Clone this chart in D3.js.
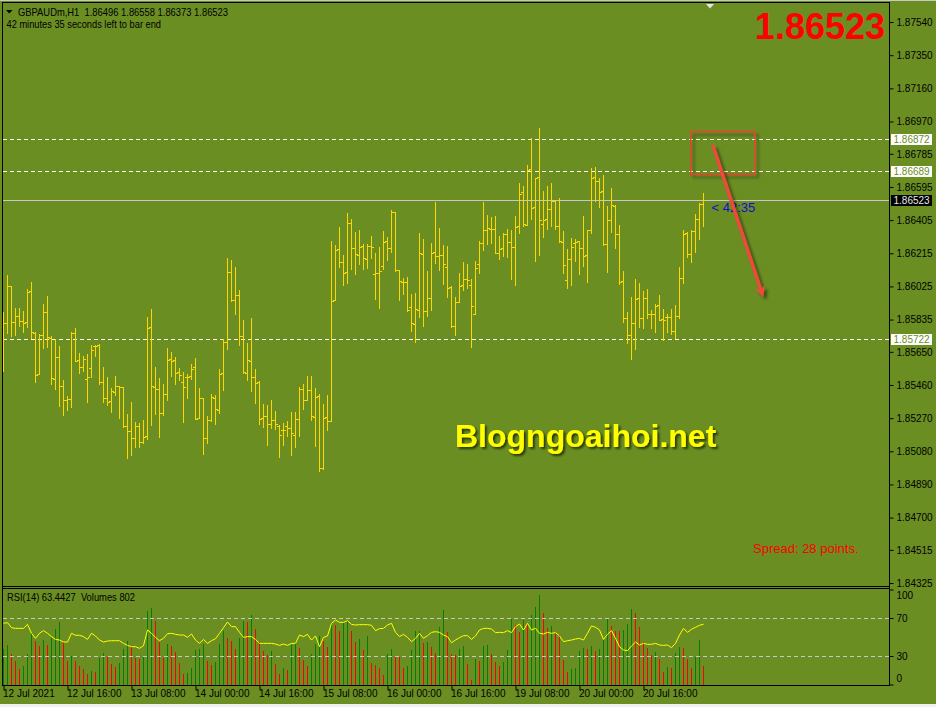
<!DOCTYPE html>
<html><head><meta charset="utf-8">
<script src="https://cdn.jsdelivr.net/npm/d3@7"></script>
<style>
html,body{margin:0;padding:0;background:#6B8E23;overflow:hidden;}
svg{display:block;}
text{font-family:"Liberation Sans",Arial,sans-serif;white-space:pre;}
</style></head><body>
<svg id="c" width="936" height="707"></svg>
<script>
const symbol = "GBPAUDm", timeframe = "H1";
const openP = [1.85803,1.85817,1.86027,1.85822,1.85855,1.85824,1.85821,1.86000,1.85759,1.85521,1.85744,1.85876,1.85729,1.85494,1.85618,1.85452,1.85375,1.85378,1.85756,1.85601,1.85565,1.85492,1.85555,1.85681,1.85687,1.85475,1.85383,1.85368,1.85418,1.85452,1.85446,1.85225,1.85194,1.85154,1.85225,1.85135,1.85166,1.85790,1.85446,1.85435,1.85297,1.85406,1.85607,1.85601,1.85534,1.85475,1.85505,1.85510,1.85561,1.85272,1.85383,1.85154,1.85257,1.85385,1.85315,1.85527,1.85704,1.86106,1.85947,1.85975,1.85740,1.85527,1.85599,1.85507,1.85477,1.85269,1.85282,1.85234,1.85259,1.85225,1.85202,1.85223,1.85212,1.85175,1.85265,1.85435,1.85372,1.85429,1.85275,1.85397,1.84982,1.85275,1.85252,1.85947,1.86237,1.86163,1.86106,1.86386,1.86243,1.86203,1.86256,1.86180,1.86255,1.86094,1.86100,1.86140,1.86285,1.86243,1.86449,1.86117,1.86048,1.86048,1.85905,1.85808,1.85888,1.86209,1.85882,1.85957,1.86220,1.86197,1.86203,1.86134,1.86020,1.85796,1.85934,1.86031,1.86065,1.86031,1.85865,1.86151,1.86272,1.86346,1.86352,1.86352,1.86214,1.86243,1.86323,1.86277,1.86249,1.86371,1.86566,1.86378,1.86696,1.86478,1.86650,1.86381,1.86409,1.86468,1.86512,1.86371,1.86277,1.86060,1.86180,1.86272,1.86283,1.86243,1.86203,1.86346,1.86650,1.86630,1.86571,1.86266,1.86404,1.86487,1.86325,1.86054,1.85842,1.85746,1.85813,1.85957,1.85842,1.85958,1.85865,1.85865,1.85920,1.85836,1.85851,1.85851,1.85771,1.85853,1.86071,1.86329,1.86209,1.86341,1.86409,1.86496];
const highP = [1.85878,1.86090,1.86027,1.85903,1.85903,1.85884,1.86010,1.86050,1.85763,1.85752,1.85926,1.85970,1.85740,1.85725,1.85683,1.85488,1.85397,1.85763,1.85786,1.85643,1.85626,1.85637,1.85689,1.85687,1.85695,1.85563,1.85505,1.85442,1.85511,1.85454,1.85448,1.85293,1.85360,1.85248,1.85242,1.85259,1.85851,1.85895,1.85565,1.85500,1.85465,1.85672,1.85647,1.85620,1.85557,1.85534,1.85524,1.85580,1.85614,1.85442,1.85383,1.85282,1.85408,1.85402,1.85553,1.85725,1.86187,1.86176,1.86136,1.86004,1.85832,1.85699,1.85844,1.85551,1.85483,1.85351,1.85345,1.85374,1.85311,1.85229,1.85242,1.85253,1.85305,1.85305,1.85446,1.85465,1.85511,1.85511,1.85442,1.85408,1.85351,1.85402,1.86285,1.86262,1.86365,1.86205,1.86444,1.86411,1.86336,1.86348,1.86268,1.86268,1.86314,1.86216,1.86251,1.86342,1.86308,1.86463,1.86451,1.86117,1.86073,1.86079,1.85981,1.85987,1.86331,1.86296,1.86113,1.86273,1.86508,1.86359,1.86262,1.86256,1.86025,1.85964,1.86102,1.86165,1.86153,1.86067,1.86170,1.86285,1.86508,1.86434,1.86422,1.86428,1.86314,1.86331,1.86352,1.86348,1.86428,1.86617,1.86600,1.86720,1.86873,1.86646,1.86933,1.86573,1.86600,1.86617,1.86512,1.86530,1.86341,1.86239,1.86302,1.86296,1.86285,1.86428,1.86346,1.86702,1.86707,1.86644,1.86663,1.86486,1.86589,1.86491,1.86377,1.86113,1.85878,1.85966,1.86067,1.86042,1.85998,1.86008,1.85890,1.85922,1.85975,1.85895,1.85865,1.85895,1.85918,1.86138,1.86348,1.86336,1.86348,1.86441,1.86504,1.86558];
const lowP = [1.85540,1.85756,1.85742,1.85746,1.85798,1.85765,1.85790,1.85731,1.85479,1.85521,1.85673,1.85679,1.85467,1.85438,1.85341,1.85289,1.85318,1.85335,1.85595,1.85530,1.85542,1.85364,1.85507,1.85626,1.85467,1.85362,1.85345,1.85307,1.85402,1.85272,1.85221,1.85043,1.85060,1.85106,1.85106,1.85126,1.85150,1.85232,1.85293,1.85163,1.85289,1.85375,1.85511,1.85467,1.85490,1.85249,1.85387,1.85496,1.85267,1.85269,1.85066,1.85129,1.85252,1.85238,1.85297,1.85431,1.85668,1.85940,1.85868,1.85691,1.85527,1.85488,1.85427,1.85355,1.85236,1.85221,1.85118,1.85212,1.85206,1.85049,1.85118,1.85166,1.85057,1.85103,1.85169,1.85324,1.85372,1.85261,1.85112,1.84968,1.84980,1.85200,1.85252,1.85945,1.86134,1.86034,1.86046,1.86126,1.86098,1.86153,1.86123,1.86132,1.86186,1.85954,1.85903,1.86126,1.86178,1.86224,1.86113,1.85947,1.85983,1.85885,1.85769,1.85708,1.85851,1.85799,1.85857,1.85891,1.86161,1.86120,1.86040,1.85966,1.85794,1.85748,1.85934,1.86002,1.86017,1.85676,1.85865,1.86103,1.86235,1.86269,1.86273,1.86214,1.86182,1.86201,1.86195,1.86069,1.86034,1.86332,1.86371,1.86378,1.86413,1.86172,1.86205,1.86310,1.86355,1.86369,1.86355,1.86281,1.86102,1.86017,1.86034,1.86170,1.86098,1.86143,1.86052,1.86332,1.86516,1.86482,1.86262,1.86106,1.86338,1.86243,1.86037,1.85822,1.85699,1.85610,1.85664,1.85794,1.85788,1.85842,1.85788,1.85765,1.85830,1.85716,1.85763,1.85754,1.85731,1.85842,1.86046,1.86195,1.86166,1.86224,1.86298,1.86373];
const closeP = [1.85815,1.86027,1.85822,1.85855,1.85826,1.85817,1.85991,1.85763,1.85515,1.85746,1.85876,1.85733,1.85498,1.85618,1.85452,1.85372,1.85378,1.85756,1.85595,1.85561,1.85607,1.85504,1.85660,1.85685,1.85479,1.85383,1.85360,1.85425,1.85452,1.85448,1.85226,1.85194,1.85154,1.85225,1.85131,1.85160,1.85785,1.85452,1.85435,1.85297,1.85406,1.85603,1.85595,1.85527,1.85515,1.85448,1.85503,1.85550,1.85267,1.85383,1.85154,1.85257,1.85391,1.85320,1.85524,1.85704,1.86106,1.85945,1.85975,1.85740,1.85532,1.85601,1.85507,1.85473,1.85265,1.85282,1.85236,1.85259,1.85234,1.85171,1.85202,1.85212,1.85183,1.85265,1.85435,1.85372,1.85429,1.85282,1.85393,1.84982,1.85269,1.85252,1.85943,1.86233,1.86163,1.86102,1.86386,1.86243,1.86209,1.86249,1.86186,1.86255,1.86249,1.86100,1.86113,1.86277,1.86243,1.86451,1.86117,1.86054,1.86048,1.85888,1.85813,1.85893,1.86214,1.85882,1.85957,1.86214,1.86197,1.86203,1.86151,1.86014,1.85796,1.85934,1.86025,1.86065,1.86060,1.85911,1.86128,1.86272,1.86346,1.86358,1.86352,1.86214,1.86237,1.86323,1.86281,1.86249,1.86365,1.86556,1.86384,1.86692,1.86472,1.86646,1.86404,1.86405,1.86468,1.86514,1.86371,1.86283,1.86146,1.86180,1.86249,1.86279,1.86243,1.86197,1.86346,1.86644,1.86630,1.86567,1.86266,1.86405,1.86491,1.86325,1.86048,1.85842,1.85746,1.85813,1.85951,1.85842,1.85958,1.85868,1.85868,1.85914,1.85832,1.85830,1.85851,1.85771,1.85853,1.86071,1.86325,1.86209,1.86344,1.86409,1.86499,1.86523];
const volumes = [1501,1668,1293,1001,667,792,1293,2182,1835,1640,1877,1668,1946,2335,2627,1793,1001,1223,980,792,653,459,598,542,1126,1334,1168,876,737,917,1501,1835,1626,1126,1070,1223,3072,3211,2669,1793,1140,1710,1626,1376,917,459,514,709,1460,1501,1696,1001,834,959,1710,2252,1960,1835,1501,1960,2669,2640,2919,2335,1793,1418,1251,1418,876,459,709,626,1668,1793,1543,1043,792,1293,1710,2043,1835,1585,2572,2500,2252,2572,2669,2252,1793,1918,1460,2043,917,834,709,400,1293,1501,1168,1150,709,792,1460,2252,2260,1751,1793,1585,1334,2419,3128,2210,1293,1251,1501,1626,876,208,1084,1001,1626,1668,1293,959,792,959,1460,2752,2502,2210,2711,2544,2919,3253,3753,3002,2363,2460,2155,2100,1043,542,667,709,1418,1543,1501,1626,1418,1501,1877,2780,2460,2252,2240,2294,2544,3169,3002,2419,1793,1543,1251,1376,1084,542,751,709,1334,1585,1543,1084,709,1168,1877,802];
const rsi14 = [64.4,65.1,59.8,59.1,59.1,59.1,63.3,53.9,48.6,53.9,56.7,53.9,50.4,47.5,46.8,44.7,44.7,53.9,51.8,51.8,50.4,47.5,53.9,51.1,46.8,44.7,45.8,46.1,46.1,46.1,43.3,41.2,39.8,39.8,38.1,40.9,57.4,53.9,49.6,46.1,48.6,53.5,53.9,52.8,52.1,52.1,49.6,53.2,46.8,43.3,47.5,43.3,46.1,48.2,53.9,59.8,65.8,60.9,60.9,54.9,49.6,50.4,50.4,47.5,43.3,43.3,43.3,43.3,42.6,41.2,42.6,41.2,43.3,43.3,52.1,50.4,52.8,46.8,51.1,39.8,49.6,51.1,64.4,67.9,65.4,65.4,67.2,63.3,62.6,63.0,63.0,63.0,62.3,56.7,58.8,59.1,62.6,64.4,54.9,50.4,52.8,49.6,45.1,48.6,53.9,48.6,51.4,54.9,55.6,54.9,52.1,50.4,44.0,46.8,49.3,51.4,51.4,47.5,51.1,57.4,59.1,59.1,58.4,54.6,54.9,54.6,56.7,54.6,60.9,63.7,57.4,64.4,57.4,59.1,53.9,53.2,54.9,53.9,54.6,51.1,45.1,46.1,46.8,47.9,48.6,46.8,53.9,61.6,60.2,57.4,47.5,52.8,56.7,48.6,39.8,36.3,35.6,40.5,44.7,41.6,43.3,42.3,42.3,43.3,41.6,41.2,41.6,38.8,43.3,52.1,59.1,54.9,58.1,60.2,62.3,63.4427];
const priceTicks = [1.87540,1.87350,1.87160,1.86970,1.86785,1.86595,1.86405,1.86215,1.86025,1.85835,1.85650,1.85460,1.85270,1.85080,1.84890,1.84700,1.84515,1.84325];
const levelLines = [1.86872,1.86689,1.85722];
const rsiTicks = [100,70,30,0];
const rsiLevels = [70,30];
const timeTickIndex = [0,16,32,48,64,80,96,112,128,144,160];
const timeTickLabels = ["12 Jul 2021","12 Jul 16:00","13 Jul 08:00","14 Jul 00:00","14 Jul 16:00","15 Jul 08:00","16 Jul 00:00","16 Jul 16:00","19 Jul 08:00","20 Jul 00:00","20 Jul 16:00"];
const spreadPoints = 28;
const timeLeft = "42:35";
// annotation (bar index, price)
const boxAnno = {i0:171.8, i1:187.9, p0:1.86912, p1:1.86667};
const arrowAnno = {i0:177.4, p0:1.86829, i1:189.6, p1:1.85987};

const W=936,H=707, BG="#6B8E23";
const svg=d3.select("#c");
const defs=svg.append("defs");
const f1=defs.append("filter").attr("id","sh").attr("x","-20%").attr("y","-20%").attr("width","150%").attr("height","150%");
f1.append("feDropShadow").attr("dx",3).attr("dy",3).attr("stdDeviation",1.8).attr("flood-color","#000").attr("flood-opacity",0.45);
const f2=defs.append("filter").attr("id","sh2").attr("x","-10%").attr("y","-20%").attr("width","120%").attr("height","150%");
f2.append("feDropShadow").attr("dx",2).attr("dy",2).attr("stdDeviation",1).attr("flood-color","#1a2405").attr("flood-opacity",0.8);
defs.append("clipPath").attr("id","mainClip").append("rect").attr("x",3).attr("y",3).attr("width",886).attr("height",583);
defs.append("marker").attr("id","ah").attr("viewBox","0 0 10 10").attr("refX",6).attr("refY",5)
  .attr("markerWidth",3.2).attr("markerHeight",3.2).attr("orient","auto")
  .append("path").attr("d","M0,0 L10,5 L0,10 L3,5 Z").attr("fill","#F04A3A");

svg.append("rect").attr("width",W).attr("height",H).attr("fill",BG);
svg.append("rect").attr("x",0).attr("y",0).attr("width",W).attr("height",1).attr("fill","#c8c8c8");
svg.append("rect").attr("x",0).attr("y",704).attr("width",W).attr("height",3).attr("fill","#f0f0f0");

const x = d3.scaleLinear().domain([0,175]).range([3.5,703.5]);
const y = d3.scaleLinear().domain([1.84308,1.87655]).range([586,2]);
const yR = d3.scaleLinear().domain([0,100]).range([684.5,589.5]);
const yV = d3.scaleLinear().domain([0,4000]).range([685,589]);
const fmt5 = d3.format(".5f");

const main = svg.append("g").attr("clip-path","url(#mainClip)");
// level lines
main.selectAll("line.lvl").data(levelLines).join("line").attr("class","lvl")
  .attr("x1",3).attr("x2",889).attr("y1",d=>Math.round(y(d))+0.5).attr("y2",d=>Math.round(y(d))+0.5)
  .attr("stroke","#ffffff").attr("stroke-dasharray","4,3").attr("shape-rendering","crispEdges");
const bid = closeP[closeP.length-1];
main.append("line").attr("x1",3).attr("x2",889).attr("y1",Math.round(y(bid))+0.5).attr("y2",Math.round(y(bid))+0.5)
  .attr("stroke","#c8c8c8").attr("shape-rendering","crispEdges");

// OHLC bars
const idx = d3.range(closeP.length);
const bars = main.append("g").attr("stroke","#FFD700").attr("stroke-width",1).attr("shape-rendering","crispEdges");
bars.selectAll("line.hl").data(idx).join("line").attr("class","hl")
  .attr("x1",i=>x(i)).attr("x2",i=>x(i)).attr("y1",i=>y(highP[i])).attr("y2",i=>y(lowP[i])+1);
bars.selectAll("line.op").data(idx).join("line").attr("class","op")
  .attr("x1",i=>x(i)-2.5).attr("x2",i=>x(i)-0.5).attr("y1",i=>Math.round(y(openP[i]))+0.5).attr("y2",i=>Math.round(y(openP[i]))+0.5);
bars.selectAll("line.cl").data(idx).join("line").attr("class","cl")
  .attr("x1",i=>x(i)+0.5).attr("x2",i=>x(i)+2.5).attr("y1",i=>Math.round(y(closeP[i]))+0.5).attr("y2",i=>Math.round(y(closeP[i]))+0.5);

// time-left label
main.append("text").attr("x",x(175)+8).attr("y",y(bid)+12).attr("font-size",13).attr("fill","#1010C8").text("< "+timeLeft);

// annotation box & arrow
main.append("rect").attr("x",x(boxAnno.i0)).attr("y",y(boxAnno.p0)).attr("width",x(boxAnno.i1)-x(boxAnno.i0))
  .attr("height",y(boxAnno.p1)-y(boxAnno.p0)).attr("fill","none").attr("stroke","#FF3535").attr("stroke-width",1.3).attr("filter","url(#sh)");
main.append("line").attr("x1",x(arrowAnno.i0)).attr("y1",y(arrowAnno.p0)).attr("x2",x(arrowAnno.i1)).attr("y2",y(arrowAnno.p1))
  .attr("stroke","#F04A3A").attr("stroke-width",3.3).attr("stroke-linecap","round").attr("marker-end","url(#ah)").attr("filter","url(#sh)");

// watermark & texts
svg.append("text").attr("x",455).attr("y",447).attr("font-size",32).attr("font-weight","bold").attr("fill","#FFFF00")
  .attr("filter","url(#sh2)").text("Blogngoaihoi.net");
svg.append("text").attr("x",885).attr("y",39).attr("text-anchor","end").attr("font-size",36).attr("font-weight","bold")
  .attr("fill","#FF0000").text(fmt5(bid));
svg.append("text").attr("x",753).attr("y",553).attr("font-size",13).attr("fill","#FF0000").text("Spread: "+spreadPoints+" points.");

// header
svg.append("path").attr("d","M6,10 L12.5,10 L9.25,13.5 Z").attr("fill","#000");
svg.append("text").attr("x",18).attr("y",15.5).attr("font-size",11).attr("fill","#000")
  .attr("textLength",210).attr("lengthAdjust","spacingAndGlyphs")
  .text(symbol+","+timeframe+"  "+[openP[175],highP[175],lowP[175],closeP[175]].map(fmt5).join(" "));
svg.append("text").attr("x",6.5).attr("y",27.5).attr("font-size",11).attr("fill","#000")
  .attr("textLength",154.5).attr("lengthAdjust","spacingAndGlyphs").text("42 minutes 35 seconds left to bar end");

// shift marker
svg.append("path").attr("d","M706,4 L714,4 L710,8.5 Z").attr("fill","#e6e6e6");

// price axis
const gA = svg.append("g").attr("transform","translate(889.5,0)")
  .call(d3.axisRight(y).tickValues(priceTicks).tickFormat(fmt5).tickSize(4).tickSizeOuter(0).tickPadding(3));
gA.select(".domain").remove();
gA.selectAll("line").attr("stroke","#000");
gA.selectAll("text").attr("font-size",10).attr("fill","#000").attr("font-family","Liberation Sans, Arial, sans-serif");

// price boxes
const boxes = svg.append("g");
levelLines.forEach(l=>{
  const yy=Math.round(y(l));
  boxes.append("rect").attr("x",891).attr("y",yy-5).attr("width",41).attr("height",11).attr("fill","#fff");
  boxes.append("text").attr("x",893.5).attr("y",yy+4).attr("font-size",10).attr("fill",BG).text(fmt5(l));
});
{
  const yy=Math.round(y(bid));
  boxes.append("rect").attr("x",891).attr("y",yy-5).attr("width",41).attr("height",11).attr("fill","#000");
  boxes.append("text").attr("x",893.5).attr("y",yy+4).attr("font-size",10).attr("fill","#e8e8e8").text(fmt5(bid));
}

// indicator panel
const sub = svg.append("g");
sub.selectAll("line.v").data(idx).join("line").attr("class","v")
  .attr("x1",i=>x(i)).attr("x2",i=>x(i)).attr("y1",yV(0)).attr("y2",i=>yV(volumes[i]))
  .attr("stroke",i=>(i===0||volumes[i]>volumes[i-1])?"#008000":"#FF0000").attr("shape-rendering","crispEdges");
sub.selectAll("line.rl").data(rsiLevels).join("line").attr("class","rl")
  .attr("x1",3).attr("x2",889).attr("y1",d=>Math.round(yR(d))+0.5).attr("y2",d=>Math.round(yR(d))+0.5)
  .attr("stroke","#C8C8C8").attr("stroke-dasharray","4,3").attr("shape-rendering","crispEdges");
sub.append("path").datum(rsi14).attr("d",d3.line().x((d,i)=>x(i)).y(d=>yR(d)))
  .attr("fill","none").attr("stroke","#FFFF00").attr("stroke-width",1);
svg.append("text").attr("x",7).attr("y",600.5).attr("font-size",11).attr("fill","#000")
  .attr("textLength",128).attr("lengthAdjust","spacingAndGlyphs")
  .text("RSI(14) "+rsi14[rsi14.length-1].toFixed(4)+"  Volumes "+volumes[volumes.length-1]);

const gR = svg.append("g").attr("transform","translate(889.5,0)")
  .call(d3.axisRight(yR).tickValues(rsiTicks).tickSize(4).tickSizeOuter(0).tickPadding(3));
gR.select(".domain").remove();
gR.selectAll("line").attr("stroke","#000");
gR.selectAll("text").attr("font-size",10).attr("fill","#000").attr("font-family","Liberation Sans, Arial, sans-serif")
  .attr("dy",d=>d===100?"0.9em":(d===0?"-0.3em":"0.32em"));

// time axis
const gT = svg.append("g").attr("transform","translate(0,686)")
  .call(d3.axisBottom(x).tickValues(timeTickIndex).tickFormat((d,i)=>timeTickLabels[i]).tickSize(4).tickSizeOuter(0).tickPadding(0));
gT.select(".domain").remove();
gT.selectAll("line").attr("stroke","#000");
gT.selectAll("text").attr("font-size",10).attr("fill","#000").attr("text-anchor","start").attr("x",-1)
  .attr("font-family","Liberation Sans, Arial, sans-serif");

// frames
const fr = svg.append("g").attr("stroke","#000").attr("shape-rendering","crispEdges");
fr.append("line").attr("x1",2).attr("x2",890).attr("y1",2.5).attr("y2",2.5);
fr.append("line").attr("x1",2.5).attr("x2",2.5).attr("y1",2).attr("y2",686);
fr.append("line").attr("x1",889.5).attr("x2",889.5).attr("y1",2).attr("y2",686);
fr.append("line").attr("x1",2).attr("x2",890).attr("y1",586.5).attr("y2",586.5);
fr.append("line").attr("x1",2).attr("x2",890).attr("y1",588.5).attr("y2",588.5);
fr.append("line").attr("x1",2).attr("x2",890).attr("y1",685.5).attr("y2",685.5);
</script>
</body></html>
